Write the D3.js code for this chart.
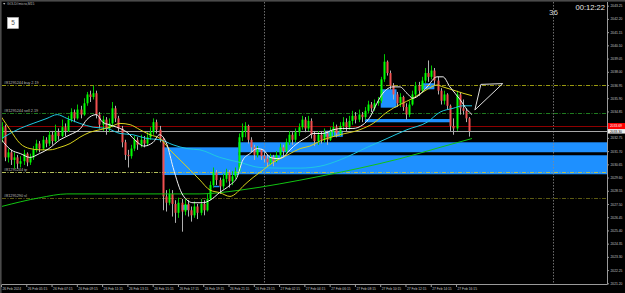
<!DOCTYPE html>
<html>
<head>
<meta charset="utf-8">
<script src="https://cdn.jsdelivr.net/npm/d3@7"></script>
<style>
html, body { margin: 0; padding: 0; background: #000; overflow: hidden; }
svg { display: block; }
text { font-family: "Liberation Sans", Arial, sans-serif; }
</style>
</head>
<body>
<svg id="chart" width="625" height="293"></svg>
<script>
// GOLD#micro M15 chart, redrawn as svg with d3

// ---- DATA ----
// one candle per 15 minutes, starting 26 Feb 03:15
const opens = [
	2032.7, 2033.6, 2031.2, 2031.6, 2031.0, 2031.2, 2030.7, 2030.9, 2031.5, 2030.8,
	2031.2, 2031.8, 2032.3, 2031.9, 2032.6, 2032.3, 2033.0, 2032.5, 2033.2, 2032.9,
	2033.6, 2033.3, 2034.2, 2034.8, 2034.3, 2035.0, 2034.6, 2035.5, 2036.2, 2036.0,
	2036.3, 2034.6, 2033.8, 2034.2, 2033.5, 2033.9, 2035.1, 2034.3, 2033.5, 2032.4,
	2031.4, 2031.3, 2031.9, 2032.6, 2032.2, 2032.6, 2032.3, 2032.8, 2033.2, 2034.0,
	2033.4, 2032.7, 2028.1, 2027.6, 2028.3, 2027.5, 2026.8, 2027.6, 2026.9, 2027.5,
	2027.0, 2026.6, 2027.3, 2026.8, 2027.5, 2027.0, 2027.9, 2029.0, 2030.0, 2029.4,
	2028.9, 2029.5, 2030.0, 2029.3, 2029.7, 2030.1, 2032.8, 2033.3, 2033.7, 2032.6,
	2032.0, 2031.4, 2031.8, 2031.3, 2031.1, 2030.8, 2031.2, 2030.9, 2031.4, 2032.0,
	2031.7, 2032.4, 2033.0, 2032.6, 2033.2, 2033.6, 2034.2, 2033.5, 2034.1, 2033.0,
	2032.5, 2033.0, 2032.6, 2033.1, 2032.6, 2033.2, 2033.6, 2033.1, 2033.7, 2034.0,
	2033.6, 2034.1, 2034.5, 2034.2, 2034.6, 2034.4, 2034.9, 2035.4, 2035.1, 2035.5,
	2035.7, 2037.4, 2038.8, 2037.9, 2036.9, 2036.2, 2035.5, 2036.0, 2035.2, 2034.6,
	2035.4, 2036.2, 2036.9, 2036.5, 2037.3, 2037.9, 2037.6, 2038.1, 2037.3, 2036.5,
	2035.7, 2036.2, 2035.3, 2033.7, 2033.5, 2036.2, 2035.1, 2034.9, 2034.3
];
const highs = [
	2034.0, 2033.8, 2031.9, 2031.8, 2031.6, 2031.4, 2031.3, 2031.8, 2031.6, 2031.5,
	2032.1, 2032.6, 2032.5, 2032.9, 2032.8, 2033.3, 2033.3, 2033.8, 2033.5, 2034.2,
	2033.9, 2034.5, 2035.1, 2035.0, 2035.4, 2035.3, 2035.9, 2036.4, 2036.5, 2036.9,
	2036.5, 2034.8, 2034.5, 2034.4, 2034.3, 2035.6, 2035.3, 2034.5, 2033.7, 2032.6,
	2031.8, 2032.2, 2032.9, 2032.8, 2033.0, 2032.9, 2033.2, 2033.6, 2034.3, 2034.2,
	2033.7, 2032.8, 2028.6, 2028.7, 2028.6, 2027.8, 2028.0, 2027.9, 2027.9, 2027.8,
	2027.3, 2027.7, 2027.5, 2027.9, 2027.8, 2028.3, 2029.3, 2030.4, 2030.2, 2029.6,
	2029.9, 2030.3, 2030.2, 2030.1, 2030.4, 2033.1, 2033.9, 2034.0, 2033.8, 2032.8,
	2032.2, 2032.1, 2031.9, 2031.6, 2031.4, 2031.5, 2031.4, 2031.7, 2032.3, 2032.2,
	2032.7, 2033.3, 2033.2, 2033.5, 2033.9, 2034.5, 2034.4, 2034.5, 2034.3, 2033.3,
	2033.3, 2033.3, 2033.5, 2033.3, 2033.6, 2034.0, 2033.8, 2034.0, 2034.4, 2034.3,
	2034.5, 2034.9, 2034.8, 2035.0, 2034.8, 2035.2, 2035.7, 2035.6, 2035.8, 2036.0,
	2037.6, 2039.4, 2038.9, 2038.1, 2037.1, 2036.4, 2036.3, 2036.1, 2035.5, 2035.7,
	2036.5, 2037.2, 2037.2, 2037.6, 2038.3, 2038.9, 2038.5, 2038.3, 2037.6, 2036.7,
	2036.5, 2036.3, 2035.4, 2034.3, 2036.5, 2036.4, 2035.8, 2035.1, 2034.4
];
const lows = [
	2032.4, 2030.9, 2030.8, 2030.6, 2030.3, 2030.3, 2030.4, 2030.6, 2030.5, 2030.6,
	2031.0, 2031.6, 2031.6, 2031.8, 2032.0, 2032.1, 2032.2, 2032.4, 2032.6, 2032.8,
	2032.9, 2033.2, 2034.0, 2034.0, 2034.2, 2034.3, 2034.5, 2035.3, 2035.6, 2035.8,
	2034.3, 2033.5, 2033.3, 2033.0, 2033.2, 2033.6, 2034.0, 2033.2, 2032.0, 2031.0,
	2030.4, 2031.1, 2031.7, 2031.8, 2032.0, 2032.0, 2032.1, 2032.6, 2033.0, 2033.1,
	2032.4, 2027.0, 2026.9, 2027.4, 2026.5, 2026.0, 2026.4, 2025.3, 2026.6, 2026.5,
	2026.1, 2026.4, 2026.3, 2026.6, 2026.6, 2026.9, 2027.8, 2028.8, 2029.0, 2028.3,
	2028.7, 2029.2, 2028.8, 2029.0, 2029.5, 2030.0, 2032.5, 2032.8, 2032.3, 2031.6,
	2031.0, 2031.2, 2031.0, 2030.8, 2030.5, 2030.6, 2030.5, 2030.8, 2031.2, 2031.3,
	2031.5, 2032.2, 2032.2, 2032.4, 2032.9, 2033.4, 2033.2, 2033.3, 2032.7, 2032.1,
	2032.2, 2032.3, 2032.4, 2032.2, 2032.5, 2032.9, 2032.8, 2032.9, 2033.4, 2033.3,
	2033.4, 2033.8, 2033.9, 2034.0, 2034.0, 2034.2, 2034.7, 2034.8, 2034.9, 2035.3,
	2035.5, 2037.2, 2037.7, 2036.6, 2035.8, 2035.2, 2035.2, 2034.9, 2034.2, 2034.4,
	2035.3, 2036.0, 2036.1, 2036.4, 2037.1, 2037.2, 2037.4, 2036.9, 2036.2, 2035.4,
	2035.4, 2035.0, 2033.3, 2033.0, 2033.3, 2034.6, 2034.6, 2034.0, 2032.85
];
const closes = [
	2033.6, 2031.2, 2031.6, 2031.0, 2031.2, 2030.7, 2030.9, 2031.5, 2030.8, 2031.2,
	2031.8, 2032.3, 2031.9, 2032.6, 2032.3, 2033.0, 2032.5, 2033.2, 2032.9, 2033.6,
	2033.3, 2034.2, 2034.8, 2034.3, 2035.0, 2034.6, 2035.5, 2036.2, 2036.0, 2036.3,
	2034.6, 2033.8, 2034.2, 2033.5, 2033.9, 2035.1, 2034.3, 2033.5, 2032.4, 2031.4,
	2031.3, 2031.9, 2032.6, 2032.2, 2032.6, 2032.3, 2032.8, 2033.2, 2034.0, 2033.4,
	2032.7, 2028.1, 2027.6, 2028.3, 2027.5, 2026.8, 2027.6, 2026.9, 2027.5, 2027.0,
	2026.6, 2027.3, 2026.8, 2027.5, 2027.0, 2027.9, 2029.0, 2030.0, 2029.4, 2028.9,
	2029.5, 2030.0, 2029.3, 2029.7, 2030.1, 2032.8, 2033.3, 2033.7, 2032.6, 2032.0,
	2031.4, 2031.8, 2031.3, 2031.1, 2030.8, 2031.2, 2030.9, 2031.4, 2032.0, 2031.7,
	2032.4, 2033.0, 2032.6, 2033.2, 2033.6, 2034.2, 2033.5, 2034.1, 2033.0, 2032.5,
	2033.0, 2032.6, 2033.1, 2032.6, 2033.2, 2033.6, 2033.1, 2033.7, 2034.0, 2033.6,
	2034.1, 2034.5, 2034.2, 2034.6, 2034.4, 2034.9, 2035.4, 2035.1, 2035.5, 2035.7,
	2037.4, 2038.8, 2037.9, 2036.9, 2036.2, 2035.5, 2036.0, 2035.2, 2034.6, 2035.4,
	2036.2, 2036.9, 2036.5, 2037.3, 2037.9, 2037.6, 2038.1, 2037.3, 2036.5, 2035.7,
	2036.2, 2035.3, 2033.7, 2033.5, 2036.2, 2035.1, 2034.9, 2034.3, 2033.3
];

// moving averages as [bar, price]
const maFast = [
	[0, 2032.6], [3, 2031.8], [6, 2031.5], [9, 2031.2], [12, 2031.5], [15, 2031.9], [18.5, 2032.6],
	[21.7, 2033.0], [25, 2033.5], [27, 2034.2], [30, 2034.6], [32, 2034.0], [34, 2033.8], [36.5, 2033.6],
	[39.7, 2033.2], [43, 2032.4], [45, 2032.1], [48, 2032.4], [50, 2033.0], [52.4, 2032.2], [54.3, 2030.4],
	[57.4, 2028.2], [60.6, 2027.6], [63.8, 2027.6], [66, 2027.8], [69, 2028.4], [72.3, 2029.0], [74.5, 2029.6],
	[76.4, 2031.0], [78.6, 2031.5], [80.9, 2031.9], [82.8, 2031.8], [85, 2031.2], [87.2, 2031.1], [89, 2031.2],
	[91.3, 2031.8], [93.5, 2032.3], [96.7, 2032.8], [98.6, 2033.1], [101.7, 2033.1], [105, 2033.4], [108, 2033.5],
	[111.2, 2033.5], [114.4, 2033.8], [116.6, 2034.4], [118.8, 2035.5], [120.7, 2036.3], [123.9, 2036.8],
	[126.1, 2036.8], [128.3, 2036.3], [130.2, 2035.9], [132.4, 2036.2], [134.7, 2036.8], [137.8, 2037.6],
	[139.7, 2037.6], [141.9, 2036.8], [145.1, 2035.8], [147.3, 2035.0], [148.9, 2034.6]
];
const maMid = [
	[0, 2034.4], [2.7, 2033.4], [5.9, 2032.3], [9, 2031.9], [12.2, 2031.8], [15.3, 2031.8], [18.5, 2032.0],
	[21.7, 2032.3], [24.8, 2032.8], [28, 2033.2], [31.2, 2033.4], [34.3, 2033.6], [37.5, 2033.9], [40.7, 2033.8],
	[43.8, 2033.4], [47, 2033.0], [50.2, 2032.7], [53.3, 2031.8], [56.5, 2031.0], [59.7, 2030.2], [62.8, 2029.4],
	[66, 2028.6], [69.1, 2028.4], [72.3, 2028.1], [74.5, 2028.4], [76.4, 2028.9], [79.6, 2029.6], [82.8, 2030.2],
	[85.9, 2030.8], [89.1, 2031.2], [91.3, 2031.5], [94.5, 2031.9], [97.6, 2032.1], [100.8, 2032.5],
	[107.1, 2033.0], [113.4, 2033.4], [117.6, 2033.9], [122, 2034.8], [126.1, 2035.4], [130.2, 2035.9],
	[134.7, 2036.6], [137.8, 2036.95], [139.7, 2036.8], [142.9, 2036.55], [146, 2036.3], [148.9, 2036.1]
];
const maSlow = [
	[0, 2032.7], [2.7, 2033.1], [5.9, 2033.5], [10, 2033.9], [14.4, 2034.3], [17.6, 2034.6], [20.7, 2034.3],
	[24.8, 2033.9], [29, 2033.6], [33.4, 2033.5], [37.5, 2033.1], [41.6, 2033.0], [46, 2032.7], [50.2, 2032.6],
	[54.3, 2032.2], [58.7, 2031.9], [62.8, 2031.8], [69.1, 2031.2], [75.5, 2030.8], [81.8, 2030.4],
	[88.1, 2030.35], [94.5, 2030.35], [100.8, 2030.5], [107.1, 2031.0], [115.7, 2032.0], [122, 2032.7],
	[128.3, 2033.4], [134.7, 2034.0], [138.8, 2034.8], [142.9, 2035.1], [146, 2035.3], [148.9, 2035.3]
];
const maLong = [
	[0, 2027.3], [12.2, 2028.0], [20.7, 2028.3], [31.2, 2028.3], [47, 2028.3], [62.8, 2028.3], [75.5, 2028.6],
	[88.1, 2029.1], [100.8, 2029.7], [113.4, 2030.35], [126.1, 2031.1], [138.8, 2032.0], [148.9, 2032.7]
];

// supply / demand boxes: [from bar, to bar (null = right edge), top price, bottom price]
const zones = [
	[51, 75, 2032.0, 2029.8],
	[75, null, 2032.40, 2031.61],
	[75, null, 2031.37, 2029.86],
	[102, 108, 2033.32, 2032.84],
	[115, 142, 2034.25, 2033.99],
	[120, 125, 2036.61, 2035.15],
	[133, 137, 2037.09, 2036.61],
	[57, 59, 2027.42, 2027.03],
	[67, 69, 2028.95, 2028.83]
];

// trade levels
const orderNames = ['#81295244 buy 2.19', '#81295244 sell 2.19', '#81295244 tp', '#81295290 sl'];
const orderPrices = [2036.98, 2034.72, 2030.02, 2027.98];

const askPrice = 2033.69;
const bidPrice = 2033.30;

// triangle object drawn by hand on the chart, [bar, price]
const triangle = [[149.8, 2034.97], [151.7, 2037.0], [158.6, 2037.06], [149.8, 2034.97]];

const daySeparators = [83];
const markerBar = 174.5;
const markerLabel = '36';

const priceTicks = [
	2043.25, 2042.20, 2041.15, 2040.10, 2039.05, 2038.00, 2036.95, 2035.90, 2034.85, 2033.80, 2032.75,
	2031.70, 2030.65, 2029.60, 2028.55, 2027.50, 2026.45, 2025.40, 2024.35, 2023.30, 2022.25, 2021.20
];
const timeTickBars = [0, 8, 16, 24, 32, 40, 48, 56, 64, 72, 80, 88, 96, 104, 112, 120, 128, 136, 144];
const timeTickLabels = [
	'26 Feb 2024', '26 Feb 05:15', '26 Feb 07:15', '26 Feb 09:15', '26 Feb 11:15', '26 Feb 13:15',
	'26 Feb 15:15', '26 Feb 17:15', '26 Feb 19:15', '26 Feb 21:15', '26 Feb 23:15', '27 Feb 02:15',
	'27 Feb 04:15', '27 Feb 06:15', '27 Feb 08:15', '27 Feb 10:15', '27 Feb 12:15', '27 Feb 14:15',
	'27 Feb 16:15'
];

const symbolTitle = 'GOLD#micro,M15';
const timerText = '00:12:22';

// ---- LAYOUT ----
const W = 625, H = 293;
const PLOT_LEFT = 2, PLOT_TOP = 2, PLOT_RIGHT = 607, PLOT_BOTTOM = 284;
const BAR_STEP = 3.16;
const AXIS_FONT = 3.3;

const BULL = '#00ff00';
const BEAR = '#f05050';
const ZONE = '#1e90ff';

let svg = d3.select('#chart');

let xScale = d3.scaleLinear().domain([0, 1]).range([1.5, 1.5 + BAR_STEP]);
let yScale = d3.scaleLinear().domain([2021.20, 2043.25]).range([283.3, 5.7]);

svg.append('rect').attr('width', W).attr('height', H).attr('fill', '#000');
// window frame
svg.append('rect').attr('x', 0).attr('y', 0).attr('width', W).attr('height', 1.6).attr('fill', '#4a4a4a');
svg.append('rect').attr('x', 0).attr('y', 0).attr('width', 1.6).attr('height', H).attr('fill', '#4a4a4a');

svg.append('clipPath').attr('id', 'plotClip')
	.append('rect')
	.attr('x', PLOT_LEFT).attr('y', PLOT_TOP)
	.attr('width', PLOT_RIGHT - PLOT_LEFT).attr('height', PLOT_BOTTOM - PLOT_TOP);

let plot = svg.append('g').attr('clip-path', 'url(#plotClip)');

drawZones();
drawSeparators();
drawOrderLines();
drawPriceLines();
drawCandles();
drawAverages();
drawTriangle();
drawAxes();
drawPriceTags();
drawLabels();

function drawZones() {
	plot.append('g').selectAll('rect')
		.data(zones)
		.join('rect')
		.attr('x', d => xScale(d[0]))
		.attr('width', d => (d[1] === null ? PLOT_RIGHT : xScale(d[1])) - xScale(d[0]))
		.attr('y', d => yScale(d[2]))
		.attr('height', d => yScale(d[3]) - yScale(d[2]))
		.attr('fill', ZONE);
}

function drawSeparators() {
	plot.append('g').selectAll('line')
		.data(daySeparators.concat([markerBar]))
		.join('line')
		.attr('x1', d => Math.round(xScale(d)) + 0.5)
		.attr('x2', d => Math.round(xScale(d)) + 0.5)
		.attr('y1', PLOT_TOP).attr('y2', PLOT_BOTTOM)
		.attr('stroke', '#8a8a8a')
		.attr('stroke-width', 0.8)
		.attr('stroke-dasharray', '1.5,1.5');
}

function drawOrderLines() {
	// buy, sell, tp, sl colours as in the terminal
	let colors = ['#9a9a10', '#1f7a1f', '#b4bf5a', '#5c5a12'];
	let g = plot.append('g');
	g.selectAll('line')
		.data(orderPrices)
		.join('line')
		.attr('x1', PLOT_LEFT).attr('x2', PLOT_RIGHT)
		.attr('y1', d => Math.round(yScale(d)) + 0.5)
		.attr('y2', d => Math.round(yScale(d)) + 0.5)
		.attr('stroke', (d, i) => colors[i])
		.attr('stroke-width', 1)
		.attr('stroke-dasharray', '4,1.5,1,1.5');
	g.selectAll('text')
		.data(orderNames)
		.join('text')
		.attr('x', 4)
		.attr('y', (d, i) => Math.round(yScale(orderPrices[i])) - 0.8)
		.attr('font-size', 3.8)
		.attr('fill', '#bdbdbd')
		.text(d => d);
}

function drawPriceLines() {
	plot.append('line')
		.attr('x1', PLOT_LEFT).attr('x2', PLOT_RIGHT)
		.attr('y1', Math.round(yScale(askPrice)) + 0.5).attr('y2', Math.round(yScale(askPrice)) + 0.5)
		.attr('stroke', '#8e0000').attr('stroke-width', 1);
	plot.append('line')
		.attr('x1', PLOT_LEFT).attr('x2', PLOT_RIGHT)
		.attr('y1', Math.round(yScale(bidPrice)) + 0.5).attr('y2', Math.round(yScale(bidPrice)) + 0.5)
		.attr('stroke', '#a8a8a8').attr('stroke-width', 1);
}

function drawCandles() {
	let bars = d3.range(closes.length);
	let g = plot.append('g');
	g.selectAll('line')
		.data(bars)
		.join('line')
		.attr('x1', i => Math.round(xScale(i)) + 0.5)
		.attr('x2', i => Math.round(xScale(i)) + 0.5)
		.attr('y1', i => yScale(highs[i]))
		.attr('y2', i => yScale(lows[i]))
		.attr('stroke', i => closes[i] >= opens[i] ? '#00c800' : '#b0b0b0')
		.attr('stroke-width', 1);
	g.selectAll('rect')
		.data(bars)
		.join('rect')
		.attr('x', i => Math.round(xScale(i)) - 0.5)
		.attr('width', 2)
		.attr('y', i => yScale(Math.max(opens[i], closes[i])))
		.attr('height', i => Math.max(1, Math.abs(yScale(opens[i]) - yScale(closes[i]))))
		.attr('fill', i => closes[i] >= opens[i] ? BULL : BEAR);
}

function drawAverages() {
	let line = d3.line().x(d => xScale(d[0])).y(d => yScale(d[1])).curve(d3.curveMonotoneX);
	let series = [
		[maLong, '#12c412'],
		[maSlow, '#1ec8e0'],
		[maMid, '#d8d21c'],
		[maFast, '#f2f2f2']
	];
	plot.append('g').selectAll('path')
		.data(series)
		.join('path')
		.attr('d', d => line(d[0]))
		.attr('fill', 'none')
		.attr('stroke', d => d[1])
		.attr('stroke-width', 1);
}

function drawTriangle() {
	let line = d3.line().x(d => xScale(d[0])).y(d => yScale(d[1]));
	plot.append('path')
		.attr('d', line(triangle))
		.attr('fill', 'none')
		.attr('stroke', '#e0e0e0')
		.attr('stroke-width', 1);
}

function drawAxes() {
	svg.append('line')
		.attr('x1', PLOT_RIGHT + 0.5).attr('x2', PLOT_RIGHT + 0.5)
		.attr('y1', PLOT_TOP).attr('y2', PLOT_BOTTOM + 0.5)
		.attr('stroke', '#9a9a9a');
	svg.append('line')
		.attr('x1', PLOT_LEFT).attr('x2', PLOT_RIGHT + 0.5)
		.attr('y1', PLOT_BOTTOM + 0.5).attr('y2', PLOT_BOTTOM + 0.5)
		.attr('stroke', '#9a9a9a');

	let yAxis = d3.axisRight(yScale)
		.tickValues(priceTicks)
		.tickFormat(d3.format('.2f'))
		.tickSize(1.5)
		.tickPadding(1.5);
	let ya = svg.append('g').attr('transform', 'translate(' + (PLOT_RIGHT + 0.5) + ',0)').call(yAxis);
	ya.select('.domain').remove();
	ya.selectAll('line').attr('stroke', '#9a9a9a');
	ya.selectAll('text').attr('font-size', AXIS_FONT).attr('fill', '#c4c4c4').attr('font-family', '"Liberation Sans", Arial, sans-serif');

	let xAxis = d3.axisBottom(xScale)
		.tickValues(timeTickBars)
		.tickFormat((d, i) => timeTickLabels[i])
		.tickSize(2.5)
		.tickPadding(1);
	let xa = svg.append('g').attr('transform', 'translate(-0.5,' + (PLOT_BOTTOM + 0.5) + ')').call(xAxis);
	xa.select('.domain').remove();
	xa.selectAll('line').attr('stroke', '#9a9a9a');
	xa.selectAll('text')
		.attr('text-anchor', 'start')
		.attr('x', 1)
		.attr('font-size', AXIS_FONT)
		.attr('fill', '#c4c4c4')
		.attr('font-family', '"Liberation Sans", Arial, sans-serif');
}

function drawPriceTags() {
	let fmt = d3.format('.2f');
	let askTop = yScale(askPrice) - 3;
	let bidTop = Math.max(yScale(bidPrice) - 2.2, askTop + 6);
	svg.append('rect').attr('x', PLOT_RIGHT + 1).attr('y', askTop).attr('width', W - PLOT_RIGHT - 1).attr('height', 6).attr('fill', '#ff0000');
	svg.append('text').attr('x', PLOT_RIGHT + 3).attr('y', askTop + 4.2).attr('font-size', AXIS_FONT).attr('fill', '#fff').text(fmt(askPrice));
	svg.append('rect').attr('x', PLOT_RIGHT + 1).attr('y', bidTop).attr('width', W - PLOT_RIGHT - 1).attr('height', 4.5).attr('fill', '#f0f0f0');
	svg.append('text').attr('x', PLOT_RIGHT + 3).attr('y', bidTop + 3.5).attr('font-size', AXIS_FONT).attr('fill', '#000').text(fmt(bidPrice));
}

function drawLabels() {
	// symbol line in the corner
	svg.append('path').attr('d', 'M3,3 L5.4,3 L4.2,4.8 Z').attr('fill', '#bbb');
	svg.append('text').attr('x', 7).attr('y', 5.4).attr('font-size', 3.4).attr('fill', '#bdbdbd').text(symbolTitle);

	// one click trading box
	svg.append('rect').attr('x', 7.5).attr('y', 17.5).attr('width', 11).attr('height', 11)
		.attr('fill', '#fff').attr('stroke', '#bcbcbc').attr('stroke-width', 0.6);
	svg.append('text').attr('x', 13).attr('y', 25.2).attr('text-anchor', 'middle')
		.attr('font-size', 6.5).attr('fill', '#555').text('5');

	svg.append('text').attr('x', Math.round(xScale(markerBar)) + 0.5).attr('y', 14.5).attr('text-anchor', 'middle')
		.attr('font-size', 8).attr('fill', '#d8d8d8').text(markerLabel);

	svg.append('text').attr('x', 605).attr('y', 9.5).attr('text-anchor', 'end')
		.attr('font-size', 7.6).attr('fill', '#e8e8e8').text(timerText);
}
</script>
</body>
</html>
